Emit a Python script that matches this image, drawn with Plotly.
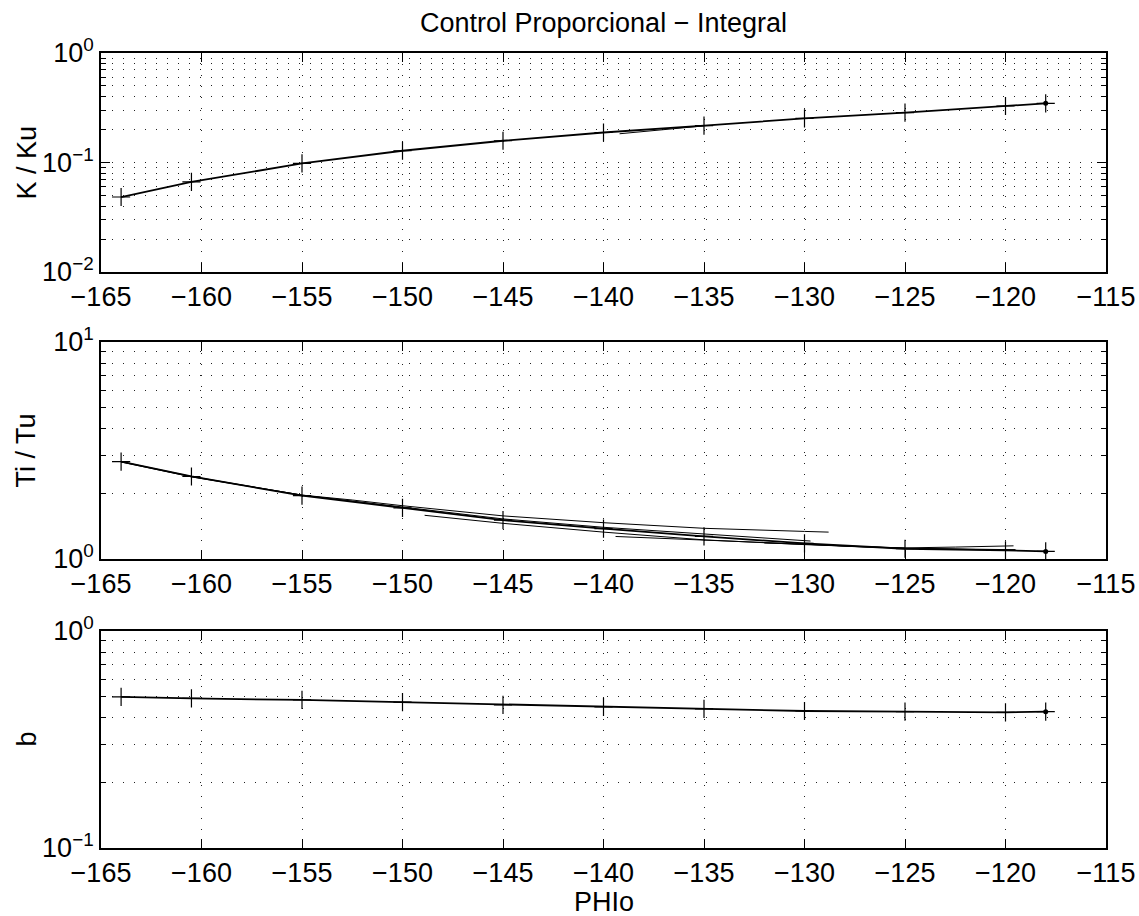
import plotly.graph_objects as go

# ---------------- data ----------------
phi_main = [-164.0, -160.5, -155, -150, -145, -140, -135, -130, -125, -120, -118.0]
K_main = [0.0484, 0.0665, 0.098, 0.128, 0.158, 0.188, 0.217, 0.253, 0.285, 0.328, 0.347]
Ti_main = [2.81, 2.40, 1.96, 1.72, 1.51, 1.38, 1.27, 1.18, 1.115, 1.097, 1.084]
b_main = [0.497, 0.489, 0.481, 0.470, 0.457, 0.447, 0.438, 0.428, 0.425, 0.422, 0.425]

# secondary curves (only visible as separate lines where they depart from the main one)
phi_KC = [-139.2, -137.5, -135]
K_C = [0.183, 0.196, 0.216]

phi_TiA = [-164.0, -160.5, -155, -152.5, -150, -145, -140, -135, -130, -128.8]
Ti_A = [2.81, 2.40, 1.97, 1.87, 1.76, 1.58, 1.47, 1.385, 1.34, 1.33]
phi_TiE = [-164.0, -160.5, -155, -150, -145, -140, -135, -129.7]
Ti_E = [2.80, 2.39, 1.97, 1.74, 1.53, 1.40, 1.30, 1.21]
phi_TiB = [-148.9, -145, -140, -135, -130, -125, -120, -119.5]
Ti_B = [1.59, 1.46, 1.33, 1.225, 1.165, 1.12, 1.105, 1.105]
phi_TiC = [-139.4, -135, -130, -125, -120.5]
Ti_C = [1.27, 1.225, 1.17, 1.12, 1.10]
phi_TiD = [-132.0, -130, -127.5, -125, -122.5, -119.6]
Ti_D = [1.185, 1.17, 1.14, 1.125, 1.135, 1.15]

x_ticks = [-165, -160, -155, -150, -145, -140, -135, -130, -125, -120, -115]
x_ticktext = ["\u2212" + str(abs(v)) for v in x_ticks]

title_text = "Control Proporcional \u2212 Integral"
ylabels = ["K / Ku", "Ti / Tu", "b"]
xlabel = "PHIo"

# ---------------- layout geometry ----------------
W, H = 1139, 916
xl, xr = 101, 1106
panels = [(53, 272), (342, 559), (631, 848)]  # pixel top/bottom of each axes box
FONT = "Liberation Sans, Arial, Helvetica, sans-serif"
FS = 27

fig = go.Figure()

def axnames(ax):
    return ("x" if ax == 1 else "x%d" % ax), ("y" if ax == 1 else "y%d" % ax)

def add_line(x, y, ax, width=1.0, marker=False):
    xa, ya = axnames(ax)
    fig.add_trace(go.Scatter(
        x=x, y=y, mode="lines+markers" if marker else "lines",
        line=dict(color="black", width=width),
        marker=dict(symbol="cross-thin", size=13, line=dict(color="black", width=1.2)) if marker else None,
        xaxis=xa, yaxis=ya, showlegend=False, hoverinfo="skip"))

def add_enddot(x, y, ax):
    xa, ya = axnames(ax)
    fig.add_trace(go.Scatter(
        x=[x], y=[y], mode="markers",
        marker=dict(symbol="circle", size=5, color="black"),
        xaxis=xa, yaxis=ya, showlegend=False, hoverinfo="skip"))

# top panel
add_line(phi_KC, K_C, 1, 1.0)
add_line(phi_main, K_main, 1, 1.8, marker=True)
add_enddot(phi_main[-1], K_main[-1], 1)
# middle panel
add_line(phi_TiA, Ti_A, 2, 1.0)
add_line(phi_TiE, Ti_E, 2, 1.0)
add_line(phi_TiB, Ti_B, 2, 1.0)
add_line(phi_TiC, Ti_C, 2, 1.0)
add_line(phi_TiD, Ti_D, 2, 1.0)
add_line(phi_main, Ti_main, 2, 1.8, marker=True)
add_enddot(phi_main[-1], Ti_main[-1], 2)
# bottom panel
add_line(phi_main, b_main, 3, 1.8, marker=True)
add_enddot(phi_main[-1], b_main[-1], 3)

def minor_vals(e0, e1):
    out = []
    for e in range(e0, e1):
        for m in range(2, 10):
            out.append(m * 10 ** e)
    return out

def sup(e):
    s = str(e).replace("-", "\u2212")
    return "10<sup>%s</sup>" % s

ydecades = [(-2, 0), (0, 1), (-1, 0)]
dash = "1px,10px"
gcol = "#222"
layout = dict(
    width=W, height=H, paper_bgcolor="white", plot_bgcolor="white",
    margin=dict(l=0, r=0, t=0, b=0, autoexpand=False), showlegend=False,
    font=dict(family=FONT, size=FS, color="black"),
)
for i, ((top, bot), (e0, e1), yl) in enumerate(zip(panels, ydecades, ylabels), start=1):
    xk = "xaxis" if i == 1 else "xaxis%d" % i
    yk = "yaxis" if i == 1 else "yaxis%d" % i
    xa, ya = axnames(i)
    layout[xk] = dict(
        domain=[xl / W, xr / W], range=[-165, -115], anchor=ya, automargin=False,
        tickmode="array", tickvals=x_ticks, ticktext=x_ticktext,
        ticks="inside", ticklen=9, tickwidth=1, tickcolor="black",
        showline=True, linecolor="black", linewidth=1.8, mirror="ticks",
        showgrid=True, gridcolor=gcol, gridwidth=1, griddash=dash,
        zeroline=False, tickfont=dict(size=FS, family=FONT),
    )
    majors = [10 ** e for e in range(e0, e1 + 1)]
    layout[yk] = dict(
        domain=[1 - bot / H, 1 - top / H], type="log", range=[e0, e1],
        anchor=xa, automargin=False,
        tickmode="array", tickvals=majors, ticktext=[sup(e) for e in range(e0, e1 + 1)],
        ticks="inside", ticklen=9, tickwidth=1, tickcolor="black",
        showline=True, linecolor="black", linewidth=1.8, mirror="ticks",
        showgrid=True, gridcolor=gcol, gridwidth=1, griddash=dash,
        minor=dict(tickvals=minor_vals(e0, e1), ticks="inside", ticklen=5,
                   tickcolor="black", showgrid=True, gridcolor=gcol,
                   gridwidth=1, griddash=dash),
        zeroline=False, tickfont=dict(size=FS, family=FONT),
    )

annotations = [
    dict(text=title_text, x=(xl + xr) / 2 / W, y=1 - 23 / H, xref="paper", yref="paper",
         showarrow=False, font=dict(size=FS, family=FONT), xanchor="center", yanchor="middle"),
    dict(text=xlabel, x=(xl + xr) / 2 / W, y=1 - 902 / H, xref="paper", yref="paper",
         showarrow=False, font=dict(size=FS, family=FONT), xanchor="center", yanchor="middle"),
]
for (top, bot), yl in zip(panels, ylabels):
    annotations.append(dict(text=yl, x=26 / W, y=1 - (top + bot) / 2 / H, xref="paper", yref="paper",
                            showarrow=False, textangle=-90, font=dict(size=FS, family=FONT),
                            xanchor="center", yanchor="middle"))
layout["annotations"] = annotations
fig.update_layout(**layout)

fig.write_html("out.html", config={"displayModeBar": False},
               post_script="document.body.style.margin='0px';")
